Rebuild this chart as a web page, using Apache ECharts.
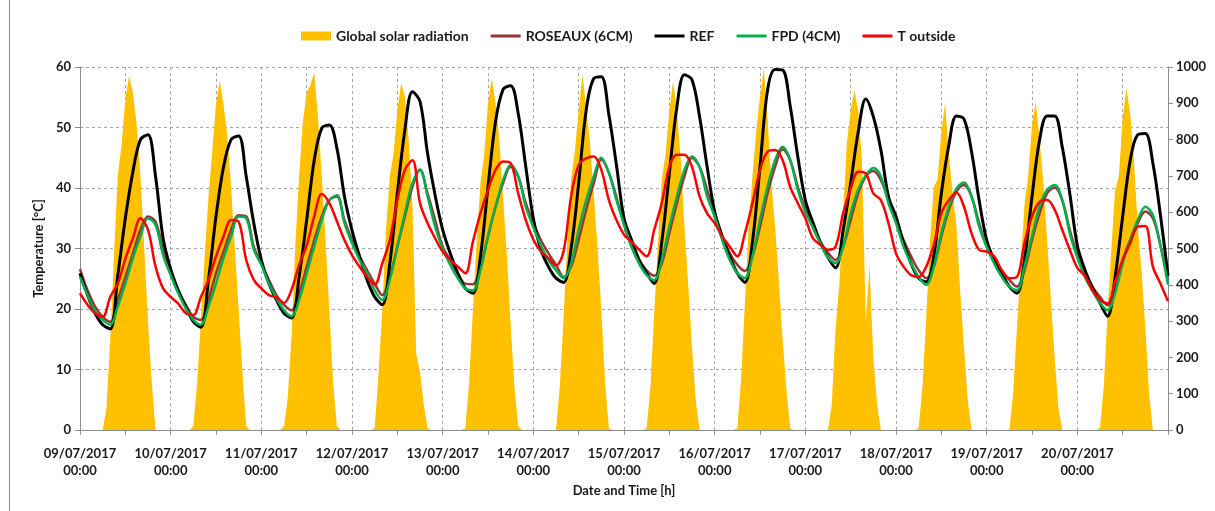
<!DOCTYPE html>
<html><head><meta charset="utf-8">
<script src="https://cdn.jsdelivr.net/npm/echarts@6/dist/echarts.min.js"></script>
<style>html,body{margin:0;padding:0;background:#fff}#c{width:1215px;height:511px}</style>
</head><body><div id="c"></div>
<script>
// x axis: hours since 09/07/2017 00:00; labels every 24 h
const dateLabels = ['09/07/2017','10/07/2017','11/07/2017','12/07/2017','13/07/2017','14/07/2017',
  '15/07/2017','16/07/2017','17/07/2017','18/07/2017','19/07/2017','20/07/2017'];
const timeLabel = '00:00';
const tempStepHours = 2;   // temperature readings every 2 h
const solarStepHours = 1;  // radiation readings every 1 h

// REF (°C), every 2 h from 09/07 00:00 to 21/07 00:00
const ref = [
  25.9,22.3,19.3,17.4,16.7,25.5,35.0,42.7,48.0,48.8,41.9,31.7,
  26.6,23.1,20.4,17.9,17.0,24.8,35.3,43.5,48.0,48.6,41.9,34.2,
  28.1,24.2,21.5,19.3,18.5,25.3,34.7,44.6,49.9,50.4,46.6,38.6,
  33.0,28.7,24.8,22.0,20.7,27.5,39.1,49.6,55.9,54.3,45.7,38.8,
  33.1,29.2,25.9,23.4,22.6,28.7,40.2,51.0,56.3,56.9,52.3,43.5,
  35.0,29.8,27.0,25.1,24.4,30.0,40.8,52.9,58.1,58.4,52.1,43.8,
  35.0,31.4,28.1,25.9,24.2,31.1,42.4,53.4,58.7,57.9,51.8,43.5,
  36.1,32.0,28.7,25.9,24.4,31.1,43.5,56.2,59.6,59.5,53.5,45.2,
  38.0,34.3,31.0,28.5,26.8,33.0,40.8,49.3,54.7,51.8,46.3,38.6,
  35.3,30.9,27.5,25.1,24.5,28.7,39.1,47.1,51.9,51.4,46.0,38.0,
  31.4,28.1,25.9,23.7,22.6,28.1,38.6,47.9,51.9,51.9,46.8,39.1,
  30.5,26.5,23.5,21.0,18.8,25.3,35.3,44.6,48.8,49.0,44.1,35.5,
  25.5];

// ROSEAUX (6CM)
const roseaux = [
  26.6,23.1,20.4,18.7,17.9,21.5,25.3,29.2,33.1,35.3,34.4,29.8,
  26.5,23.1,20.7,18.7,18.2,21.5,25.9,29.5,33.1,35.5,35.3,30.3,
  27.5,24.8,22.3,20.7,19.8,22.6,27.0,31.4,35.3,38.0,38.6,34.7,
  31.4,28.7,26.4,24.2,22.3,25.3,30.3,35.3,40.2,43.0,39.1,34.7,
  30.3,28.1,25.9,24.2,24.1,27.0,32.0,36.9,40.8,43.5,41.9,37.5,
  34.3,31.4,29.2,27.3,25.3,27.0,31.4,36.4,40.8,44.7,42.5,38.5,
  34.0,30.3,28.1,26.4,25.5,27.5,32.5,37.5,41.9,45.0,43.5,39.7,
  35.3,32.0,29.2,27.3,26.3,28.7,33.6,39.1,43.5,46.4,44.6,40.2,
  36.5,33.5,31.0,29.3,28.1,30.3,34.7,39.1,41.9,42.8,41.3,38.0,
  34.7,31.4,28.7,26.4,25.1,27.0,32.0,36.4,39.4,40.5,38.6,34.2,
  30.3,28.1,26.4,24.8,23.7,26.4,31.4,35.8,39.1,40.1,38.0,33.1,
  29.0,26.0,23.7,22.0,20.6,23.1,28.1,31.4,34.2,36.1,35.0,30.5,
  24.8];

// FPD (4CM)
const fpd = [
  25.3,22.3,19.6,18.2,17.4,20.4,24.2,28.4,32.0,35.0,33.9,28.9,
  25.6,22.6,20.1,18.2,17.4,20.4,24.2,28.4,32.0,35.3,35.0,29.8,
  27.3,24.2,21.8,19.8,18.8,21.5,25.9,30.3,34.7,38.0,38.8,34.2,
  30.9,28.1,25.9,23.1,21.5,24.8,30.3,35.8,40.8,43.0,38.6,33.6,
  30.0,27.3,25.1,23.4,23.1,26.4,32.0,36.9,41.3,43.8,41.9,36.9,
  33.5,30.5,28.1,26.4,25.1,27.5,33.1,38.0,41.9,45.0,42.5,38.0,
  34.0,30.3,27.5,25.6,24.8,28.1,33.6,38.6,43.0,45.2,43.5,38.6,
  35.3,31.4,28.1,25.9,25.1,28.7,34.7,40.2,44.6,46.8,44.6,39.7,
  36.0,33.5,30.8,28.5,27.6,30.3,35.8,39.7,42.1,43.3,41.9,37.5,
  34.2,30.3,27.5,25.3,24.0,27.0,32.5,36.9,39.9,40.9,38.6,33.6,
  30.3,27.5,25.3,23.7,23.1,27.0,32.0,36.9,39.7,40.5,38.0,32.5,
  28.5,25.3,23.0,21.0,19.8,22.6,27.5,31.4,34.7,36.9,35.5,30.5,
  24.0];

// T outside
const tOutside = [
  22.6,20.7,19.3,18.7,22.0,24.2,28.3,31.7,35.0,33.1,27.0,23.4,
  22.0,20.9,19.3,19.0,22.0,24.8,28.7,32.0,34.7,34.4,28.1,24.8,
  23.4,22.3,21.9,21.0,23.2,27.3,30.5,35.3,39.0,37.5,34.5,31.4,
  28.9,27.0,25.3,24.0,27.5,31.4,38.0,43.0,44.6,37.5,34.2,31.7,
  29.5,28.1,27.0,25.9,31.1,35.8,39.7,43.0,44.4,44.1,39.1,34.7,
  31.5,29.5,28.4,27.2,29.5,38.6,43.8,44.9,45.2,43.0,38.0,34.7,
  32.3,31.1,29.8,28.7,33.1,37.5,43.5,45.5,45.5,43.5,38.6,35.8,
  34.2,32.0,30.3,28.7,32.5,37.5,43.0,46.0,46.3,44.6,40.2,37.5,
  35.0,31.7,30.6,29.8,30.3,35.8,39.9,42.7,42.4,39.1,38.0,34.2,
  29.2,27.0,25.6,25.3,27.0,30.6,35.8,38.0,39.2,36.9,32.5,29.8,
  29.5,28.7,26.4,25.1,25.3,30.9,35.3,37.7,38.0,36.4,33.1,29.8,
  26.8,25.5,23.1,21.5,20.9,24.5,28.1,30.9,33.6,33.7,27.0,24.2,
  21.3];

// Global solar radiation (W/m²), hourly 06:00..20:00 each day; 0 at night
const solarFirstHour = 6;
const solarDay = [
  [0,60,250,480,700,785,910,975,930,840,700,500,300,130,0],
  [10,130,300,480,640,765,900,962,895,810,670,500,330,160,10],
  [10,90,260,510,700,850,930,950,985,860,700,520,330,130,10],
  [5,150,330,550,700,760,880,955,920,800,620,210,160,70,5],
  [5,130,330,520,680,760,900,970,900,800,640,480,290,120,10],
  [0,120,310,520,690,770,880,978,890,790,650,500,330,130,5],
  [5,120,320,520,690,760,880,960,880,750,560,400,230,80,0],
  [5,140,350,560,700,820,920,995,860,680,560,410,250,110,5],
  [0,70,280,400,600,790,880,935,880,740,300,450,200,70,0],
  [5,120,310,520,670,690,820,900,760,650,560,380,230,80,0],
  [0,100,280,450,620,700,840,905,800,680,520,360,200,60,0],
  [5,120,320,500,660,700,860,942,870,740,560,440,280,100,0]
];

// ---- build data ----
const tempPairs = arr => arr.map((v, i) => [i * tempStepHours, v]);
const solarPairs = [];
solarDay.forEach((row, d) => {
  for (let h = 0; h < 24; h++) {
    const k = h - solarFirstHour;
    solarPairs.push([(d * 24 + h) * solarStepHours, (k >= 0 && k < row.length) ? row[k] : 0]);
  }
});
solarPairs.push([solarDay.length * 24, 0]);

const FONT = 'Lato';
const txt = { fontFamily: FONT, fontWeight: 'bold', fontSize: 13, color: '#1a1a1a' };
const axisGray = '#8c8c8c';
const gridDash = { color: '#a6a6a6', type: [3, 3], width: 1 };
const lineIcon = 'path://M0,0 L30,0 L30,3 L0,3 Z';

const chart = echarts.init(document.getElementById('c'), null, { renderer: 'canvas' });
chart.setOption({
  animation: false,
  backgroundColor: '#ffffff',
  graphic: [{ type: 'line', shape: { x1: 9.5, y1: 0, x2: 9.5, y2: 511 }, style: { stroke: '#8c8c8c', lineWidth: 1 } }],
  legend: {
    top: 24, left: 296, itemWidth: 30, itemHeight: 9, itemGap: 22,
    textStyle: { fontFamily: FONT, fontWeight: 'bold', fontSize: 14, color: '#1a1a1a' },
    data: [
      { name: 'Global solar radiation', icon: 'rect' },
      { name: 'ROSEAUX (6CM)', icon: lineIcon },
      { name: 'REF', icon: lineIcon },
      { name: 'FPD (4CM)', icon: lineIcon },
      { name: 'T outside', icon: lineIcon }
    ]
  },
  grid: { left: 80, right: 47, top: 67, bottom: 81, containLabel: false },
  xAxis: {
    type: 'value', min: 0, max: 288, interval: 12,
    name: 'Date and Time [h]', nameLocation: 'middle', nameGap: 54,
    nameTextStyle: txt,
    axisLine: { show: true, lineStyle: { color: axisGray } },
    axisTick: { show: true, length: 5, lineStyle: { color: axisGray } },
    splitLine: { show: true, lineStyle: gridDash },
    axisLabel: Object.assign({}, txt, {
      margin: 15, lineHeight: 17, showMinLabel: true, showMaxLabel: true,
      formatter: v => {
        const i = Math.round(v / 24);
        if (Math.abs(v - i * 24) < 1e-6 && i < dateLabels.length) return dateLabels[i] + '\n' + timeLabel;
        return '';
      }
    })
  },
  yAxis: [{
    type: 'value', min: 0, max: 60, interval: 10,
    name: 'Temperature [°C]', nameLocation: 'middle', nameGap: 34, nameRotate: 90,
    nameTextStyle: txt,
    axisLine: { show: true, lineStyle: { color: axisGray } },
    axisTick: { show: true, length: 5, lineStyle: { color: axisGray } },
    splitLine: { show: true, lineStyle: gridDash },
    axisLabel: Object.assign({}, txt, { margin: 9 })
  }, {
    type: 'value', min: 0, max: 1000, interval: 100, position: 'right',
    axisLine: { show: true, lineStyle: { color: axisGray } },
    axisTick: { show: true, length: 5, lineStyle: { color: axisGray } },
    splitLine: { show: false },
    axisLabel: Object.assign({}, txt, { margin: 8, formatter: v => String(v) })
  }],
  series: [
    { name: 'Global solar radiation', type: 'line', yAxisIndex: 1, data: solarPairs,
      symbol: 'none', color: '#FFC000', lineStyle: { width: 0 },
      areaStyle: { color: '#FFC000', opacity: 1 }, z: 1 },
    { name: 'ROSEAUX (6CM)', type: 'line', data: tempPairs(roseaux), symbol: 'none', smooth: 0.35,
      color: '#953735', lineStyle: { width: 2.5, color: '#953735' }, z: 2 },
    { name: 'REF', type: 'line', data: tempPairs(ref), symbol: 'none', smooth: 0.35,
      color: '#000000', lineStyle: { width: 3, color: '#000000' }, z: 3 },
    { name: 'FPD (4CM)', type: 'line', data: tempPairs(fpd), symbol: 'none', smooth: 0.35,
      color: '#00B050', lineStyle: { width: 2.5, color: '#00B050' }, z: 4 },
    { name: 'T outside', type: 'line', data: tempPairs(tOutside), symbol: 'none', smooth: 0.35,
      color: '#FF0000', lineStyle: { width: 2.5, color: '#FF0000' }, z: 5 }
  ]
});
</script></body></html>
